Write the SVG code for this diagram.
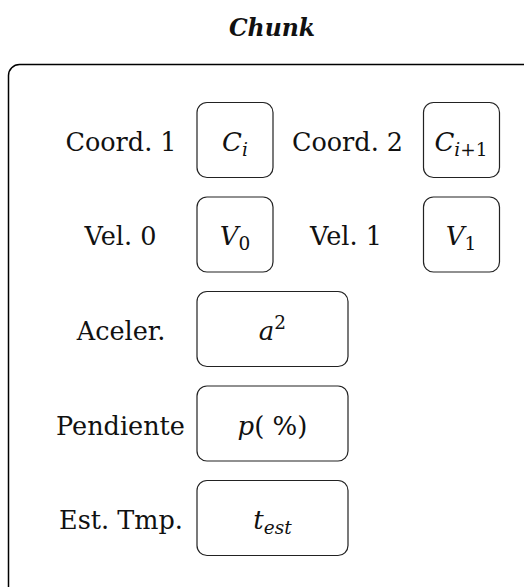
<svg xmlns="http://www.w3.org/2000/svg" width="524" height="587" viewBox="0 0 524 587">
  <style>
    .frame { fill: none; stroke: #000; stroke-width: 1.5; }
    .box { fill: #fff; stroke: #222; stroke-width: 1.2; }
    .lbl { font-family: "DejaVu Serif", "Liberation Serif", serif; font-size: 25.5px; fill: #111; text-anchor: middle; }
    .math { font-family: "DejaVu Serif", "Liberation Serif", serif; font-size: 26px; fill: #111; text-anchor: middle; }
    .it { font-style: italic; }
    .sub { font-size: 18.5px; }
    .title { font-family: "DejaVu Serif", "Liberation Serif", serif; font-size: 23.5px; font-weight: bold; font-style: italic; fill: #111; text-anchor: middle; }
  </style>

  <text class="title" x="272" y="36">Chunk</text>

  <!-- outer container, open to the right and bottom -->
  <rect class="frame" x="8.5" y="64.5" width="620" height="620" rx="11"/>

  <g id="connectors"></g>

  <!-- row 1 -->
  <g id="coord1">
    <text class="lbl" x="121" y="150.5">Coord. 1</text>
    <rect class="box" x="197" y="102.5" width="76" height="75" rx="10"/>
    <text class="math" x="235" y="150.5"><tspan class="it">C</tspan><tspan class="it sub" dy="5">i</tspan></text>
  </g>
  <g id="coord2">
    <text class="lbl" x="347.5" y="150.5">Coord. 2</text>
    <rect class="box" x="423.5" y="102.5" width="76" height="75" rx="10"/>
    <text class="math" x="461" y="150.5"><tspan class="it">C</tspan><tspan class="sub" dy="5"><tspan class="it">i</tspan>+1</tspan></text>
  </g>

  <!-- row 2 -->
  <g id="vel0">
    <text class="lbl" x="120.5" y="245">Vel. 0</text>
    <rect class="box" x="197" y="197" width="76" height="75" rx="10"/>
    <text class="math" x="235" y="245"><tspan class="it">V</tspan><tspan class="sub" dy="5">0</tspan></text>
  </g>
  <g id="vel1">
    <text class="lbl" x="346" y="245">Vel. 1</text>
    <rect class="box" x="423.5" y="197" width="76" height="75" rx="10"/>
    <text class="math" x="461" y="245"><tspan class="it">V</tspan><tspan class="sub" dy="5">1</tspan></text>
  </g>

  <!-- row 3 -->
  <g id="aceler">
    <text class="lbl" x="121" y="340">Aceler.</text>
    <rect class="box" x="197" y="291.5" width="151" height="75" rx="10"/>
    <text class="math" x="272.5" y="340"><tspan class="it">a</tspan><tspan class="sub" dy="-11">2</tspan></text>
  </g>

  <!-- row 4 -->
  <g id="pendiente">
    <text class="lbl" x="120.5" y="434.5">Pendiente</text>
    <rect class="box" x="197" y="386" width="151" height="75" rx="10"/>
    <text class="math" x="272.5" y="434.5"><tspan class="it">p</tspan>( %)</text>
  </g>

  <!-- row 5 -->
  <g id="est-tmp">
    <text class="lbl" x="121" y="529">Est. Tmp.</text>
    <rect class="box" x="197" y="480.5" width="151" height="75" rx="10"/>
    <text class="math" x="272.5" y="529"><tspan class="it">t</tspan><tspan class="it sub" dy="5">est</tspan></text>
  </g>
</svg>
